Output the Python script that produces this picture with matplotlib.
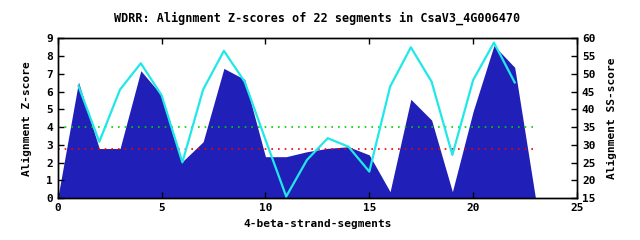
import matplotlib
matplotlib.use("Agg")
import matplotlib.pyplot as plt

# segment index, z-score (filled), SS-score (cyan line, right axis)
seg = list(range(24))
zscore = [0.0, 6.54, 2.8, 2.8, 7.18, 5.8, 2.06, 3.18, 7.31, 6.69, 2.34, 2.34,
          2.62, 2.81, 2.9, 2.44, 0.37, 5.57, 4.4, 0.37, 4.9, 8.6, 7.37, 0.0]
ss_x = list(range(1, 23))
ss_score = [46.6, 30.9, 45.6, 53.0, 44.0, 25.1, 45.6, 56.5, 47.8, 31.5, 15.5,
            25.8, 31.9, 29.5, 22.5, 46.4, 57.5, 47.8, 27.2, 48.3, 58.8, 47.6]
green_level = 4.03
red_level = 2.77

plt.rcParams["font.family"] = ["DejaVu Sans Mono"]
plt.rcParams["font.weight"] = "bold"
plt.rcParams["font.size"] = 8

fig = plt.figure(figsize=(6.4, 2.4), dpi=100)
ax = fig.add_axes([0.0902, 0.174, 0.8114, 0.666])
ax.fill_between(seg, zscore, 0, color="#2020b8", lw=0, zorder=1)
ax.plot([0, 23], [green_level] * 2, ls=(0, (1, 3)), color="#00d000", lw=1.2, zorder=3)
ax.plot([0, 23], [red_level] * 2, ls=(0, (1, 3)), color="#f00000", lw=1.2, zorder=3)
ax.set_xlim(0, 25)
ax.set_ylim(0, 9)
ax.set_xticks(range(0, 26, 5))
ax.set_yticks(range(0, 10))
ax.tick_params(direction="in", length=4, top=True, width=1)
ax.set_xlabel("4-beta-strand-segments", fontweight="bold")
ax.set_ylabel("Alignment Z-score", fontweight="bold", labelpad=10)
ax.set_title("WDRR: Alignment Z-scores of 22 segments in CsaV3_4G006470",
             fontweight="bold", fontsize=8.5, pad=12)

ax2 = ax.twinx()
ax2.plot(ss_x, ss_score, color="#20e8e8", lw=1.6, zorder=4)
ax2.set_ylim(15, 60)
ax2.set_yticks(range(15, 61, 5))
ax2.tick_params(direction="in", length=4, width=1)
ax2.set_ylabel("Alignment SS-score", fontweight="bold", labelpad=8)
for a in (ax, ax2):
    for s in a.spines.values():
        s.set_linewidth(1)

fig.savefig("out.png", dpi=100)
